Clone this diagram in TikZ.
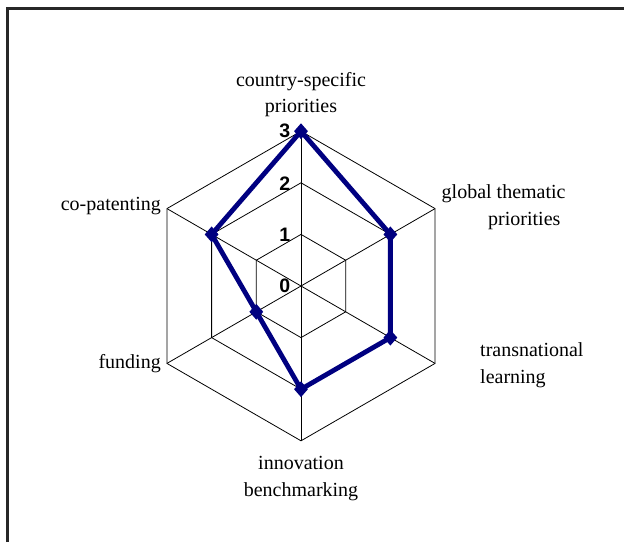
\documentclass[tikz,border=0pt]{standalone}
\usepackage{fontspec}
\setmainfont{Liberation Serif}
\newfontfamily\numfont{Liberation Sans}
\usetikzlibrary{shapes.geometric}
\definecolor{navyc}{RGB}{0,0,128}
\definecolor{framec}{RGB}{40,40,40}
\begin{document}
\begin{tikzpicture}[x=1pt,y=1pt,
  grid/.style={draw=black, line width=0.8pt},
  series/.style={draw=navyc, line width=4.8pt, line join=round},
  marker/.style={diamond, fill=navyc, inner sep=0pt, minimum width=14pt, minimum height=16pt},
  axlabel/.style={font=\fontsize{20}{24}\selectfont, inner sep=0pt},
  tick/.style={font=\numfont\bfseries\fontsize{19.5}{22}\selectfont, inner sep=0pt, anchor=base east}]
\useasboundingbox (0,0) rectangle (624,-542);
\draw[line width=2.2pt, draw=framec] (7.5,-542) -- (7.5,-8.5) -- (624,-8.5);
\coordinate (O) at (301,-286);
\foreach \i in {0,...,5} {
  \foreach \r in {1,2,3} {
    \coordinate (g\r-\i) at ([shift={({90-60*\i}:{\r*51.6})}]O);
  }
}
\foreach \r in {1,2,3} {
  \draw[grid] (g\r-0) -- (g\r-1) -- (g\r-2) -- (g\r-3) -- (g\r-4) -- (g\r-5) -- cycle;
}
\foreach \i in {0,...,5} { \draw[grid] (O) -- (g3-\i); }
% data
\foreach \i/\v in {0/3,1/2,2/2,3/2,4/1,5/2} {
  \coordinate (d\i) at ([shift={({90-60*\i}:{\v*51.6})}]O);
}
\draw[series] (d0) -- (d1) -- (d2) -- (d3) -- (d4) -- (d5) -- cycle;
\foreach \i in {0,...,5} { \node[marker] (m\i) at (d\i) {}; }
% tick labels
\node[tick] (t3) at (290.5,-137.7) {3};
\node[tick] (t2) at (290.5,-190) {2};
\node[tick] (t1) at (290.5,-241.5) {1};
\node[tick] (t0) at (290.5,-292.7) {0};
% axis labels
\node[axlabel, anchor=base] (l0a) at (301,-86) {country-specific};
\node[axlabel, anchor=base] (l0b) at (301,-112) {priorities};
\node[axlabel, anchor=base west] (l1a) at (441.5,-198.3) {global thematic};
\node[axlabel, anchor=base west] (l1b) at (488,-225) {priorities};
\node[axlabel, anchor=base west] (l2a) at (480,-356.7) {transnational};
\node[axlabel, anchor=base west] (l2b) at (480,-383) {learning};
\node[axlabel, anchor=base] (l3a) at (301,-469) {innovation};
\node[axlabel, anchor=base] (l3b) at (301,-496) {benchmarking};
\node[axlabel, anchor=base east] (l4) at (161,-368) {funding};
\node[axlabel, anchor=base east] (l5) at (161,-210) {co-patenting};
\end{tikzpicture}
\end{document}
